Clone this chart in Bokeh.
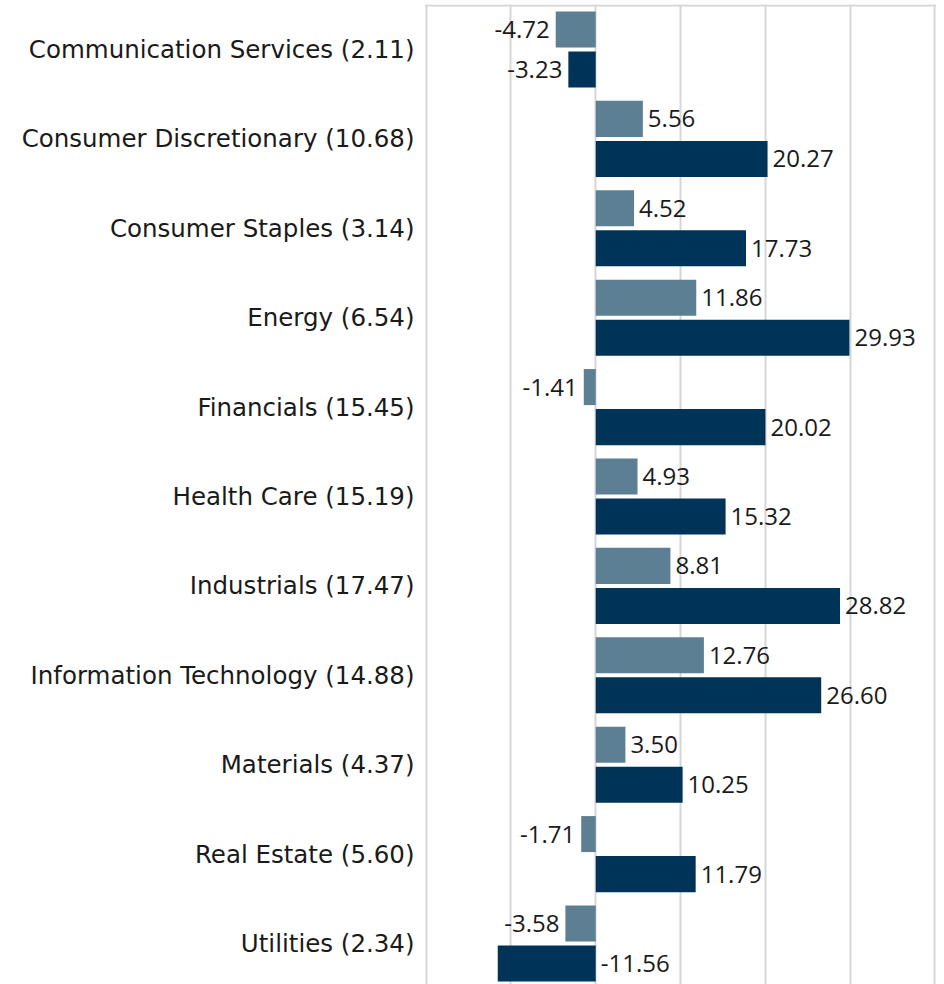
from bokeh.plotting import figure
from bokeh.models import Range1d, FixedTicker, ColumnDataSource, Span
from bokeh.core.properties import value
from bokeh.embed import file_html
from bokeh.resources import INLINE

categories = ["Communication Services (2.11)", "Consumer Discretionary (10.68)",
              "Consumer Staples (3.14)", "Energy (6.54)", "Financials (15.45)",
              "Health Care (15.19)", "Industrials (17.47)",
              "Information Technology (14.88)", "Materials (4.37)",
              "Real Estate (5.60)", "Utilities (2.34)"]
series_light = [-4.72, 5.56, 4.52, 11.86, -1.41, 4.93, 8.81, 12.76, 3.50, -1.71, -3.58]
series_dark = [-3.23, 20.27, 17.73, 29.93, 20.02, 15.32, 28.82, 26.60, 10.25, 11.79, -11.56]
x_ticks = [-20, -10, 0, 10, 20, 30, 40]

LIGHT = "#5d7f93"
DARK = "#003358"
TXT = "#1a1a1a"
FONT_CAT = "DejaVu Sans"
FONT_VAL = "Open Sans"
OFF = 0.224
BAR_H = 0.403
BAND = 89.4

n = len(categories)
idx = list(range(n))

top_val = -45 / BAND
bot_val = top_val + 980 / BAND

p = figure(width=936, height=984, output_backend="svg", toolbar_location=None,
           x_range=Range1d(-20.2, 40.2), y_range=Range1d(bot_val, top_val),
           min_border_left=424, min_border_right=0, min_border_top=4, min_border_bottom=0)
p.outline_line_color = None
p.background_fill_color = "white"

def make_src(vals, shift):
    ys = [i + shift for i in idx]
    lx, align, off = [], [], []
    for v in vals:
        if v >= 0:
            lx.append(v); align.append("left"); off.append(5)
        elif v < -10:
            lx.append(0); align.append("left"); off.append(5)
        else:
            lx.append(v); align.append("right"); off.append(-6)
    return ColumnDataSource(dict(y=ys, v=vals, lx=lx, align=align, off=off,
                                 lab=["%.2f" % v for v in vals]))

src_l = make_src(series_light, -OFF)
src_d = make_src(series_dark, OFF)

p.hbar(y="y", left=0, right="v", height=BAR_H, source=src_l, color=LIGHT, line_color=None)
p.hbar(y="y", left=0, right="v", height=BAR_H, source=src_d, color=DARK, line_color=None)

for s in (src_l, src_d):
    p.text(x="lx", y="y", text="lab", source=s, x_offset="off", text_align="align",
           text_baseline="middle", text_font=value(FONT_VAL), text_font_size="24px",
           text_color=TXT)

p.xaxis.visible = False
p.xgrid.ticker = FixedTicker(ticks=x_ticks)
p.xgrid.grid_line_color = "#d6d6d6"
p.xgrid.grid_line_width = 2
p.ygrid.visible = False

p.yaxis.ticker = FixedTicker(ticks=idx)
p.yaxis.major_label_overrides = {i: c for i, c in zip(idx, categories)}
p.yaxis.axis_line_color = None
p.yaxis.major_tick_line_color = None
p.yaxis.minor_tick_line_color = None
p.yaxis.major_label_standoff = 4
p.yaxis.major_label_text_font = FONT_CAT
p.yaxis.major_label_text_font_size = "24.5px"
p.yaxis.major_label_text_color = TXT

p.add_layout(Span(location=top_val + 1 / BAND, dimension="width",
                  line_color="#d6d6d6", line_width=2))

open("out.html", "w").write(file_html(p, INLINE))
